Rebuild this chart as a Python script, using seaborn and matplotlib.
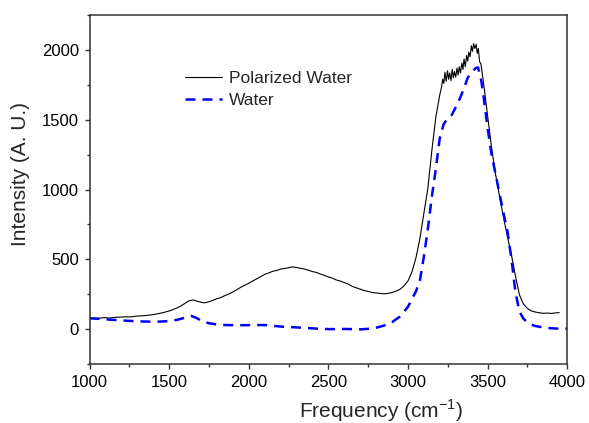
import numpy as np
import pandas as pd
import matplotlib
matplotlib.use('Agg')
import matplotlib.pyplot as plt
from matplotlib.ticker import MultipleLocator
import seaborn as sns

# Polarized water spectrum (black, thin, noisy top)
polarized_freq = [1000, 1025, 1050, 1075, 1100, 1125, 1150, 1175, 1200, 1225, 1250, 1275,
                  1300, 1325, 1350, 1375, 1400, 1425, 1450, 1475, 1500, 1525, 1550, 1575,
                  1600, 1625, 1650, 1675, 1700, 1725, 1750, 1775, 1800, 1825, 1850, 1875,
                  1900, 1925, 1950, 1975, 2000, 2025, 2050, 2075, 2100, 2125, 2150, 2175,
                  2200, 2225, 2250, 2275, 2300, 2325, 2350, 2375, 2400, 2425, 2450, 2475,
                  2500, 2525, 2550, 2575, 2600, 2625, 2650, 2675, 2700, 2725, 2750, 2775,
                  2800, 2825, 2850, 2875, 2900, 2925, 2950, 2975, 3000, 3025, 3050, 3075,
                  3100, 3125, 3150, 3175, 3200, 3210, 3218, 3225, 3232, 3240, 3248, 3255,
                  3262, 3270, 3278, 3285, 3292, 3300, 3308, 3315, 3322, 3330, 3338, 3345,
                  3352, 3360, 3368, 3375, 3382, 3390, 3398, 3405, 3412, 3420, 3428, 3435,
                  3442, 3450, 3458, 3475, 3500, 3525, 3550, 3575, 3600, 3625, 3650, 3675,
                  3700, 3725, 3750, 3775, 3800, 3825, 3850, 3875, 3900, 3925, 3950]
polarized_int = [76, 79, 77, 80, 82, 79, 83, 85, 86, 88, 87, 90,
                 93, 95, 97, 100, 104, 109, 115, 122, 130, 140, 152, 166,
                 185, 203, 209, 200, 192, 188, 196, 206, 218, 226, 240, 252,
                 266, 282, 300, 314, 328, 345, 360, 376, 392, 402, 414, 420,
                 430, 434, 440, 446, 441, 436, 430, 422, 412, 406, 394, 385,
                 374, 365, 352, 344, 333, 322, 306, 296, 286, 276, 270, 262,
                 259, 256, 252, 256, 262, 272, 285, 310, 345, 410, 510, 650,
                 830, 1010, 1280, 1520, 1680, 1730, 1790, 1760, 1840, 1775, 1850, 1790,
                 1835, 1780, 1860, 1800, 1845, 1805, 1870, 1820, 1880, 1835, 1905, 1860,
                 1935, 1880, 1960, 1920, 1985, 1950, 2030, 1990, 2045, 2010, 2040, 1975,
                 2010, 1915, 1900, 1760, 1530, 1300, 1110, 950, 800, 660, 530, 380,
                 245, 180, 148, 130, 122, 117, 113, 115, 112, 116, 118]

# Water spectrum (blue, dashed)
water_freq = [1000, 1050, 1100, 1150, 1200, 1250, 1300, 1350, 1400, 1450, 1500, 1550,
              1600, 1640, 1675, 1700, 1750, 1800, 1850, 1900, 1950, 2000, 2050, 2100,
              2150, 2200, 2250, 2300, 2350, 2400, 2450, 2500, 2550, 2600, 2650, 2700,
              2750, 2800, 2850, 2900, 2950, 3000, 3025, 3050, 3075, 3100, 3125, 3150,
              3175, 3200, 3225, 3250, 3275, 3300, 3325, 3350, 3375, 3400, 3425, 3440,
              3460, 3475, 3500, 3525, 3550, 3575, 3600, 3625, 3650, 3675, 3700, 3725,
              3750, 3775, 3800, 3850, 3900, 3950, 4000]
water_int = [77, 74, 70, 66, 62, 59, 56, 54, 53, 54, 58, 66,
             82, 94, 78, 60, 42, 33, 29, 28, 28, 28, 29, 29,
             24, 18, 15, 12, 9, 5, 2, 0, 0, 1, 0, -2,
             2, 10, 25, 50, 90, 160, 215, 270, 350, 520, 720, 950,
             1150, 1370, 1470, 1510, 1534, 1590, 1650, 1720, 1800, 1840, 1870, 1875,
             1780, 1665, 1440, 1250, 1110, 970, 830, 700, 500, 265, 125, 75,
             48, 32, 22, 12, 6, 3, 2]

sns.set_style('ticks')
plt.rcParams['font.family'] = ['Liberation Sans', 'DejaVu Sans']
plt.rcParams['mathtext.fontset'] = 'custom'
plt.rcParams['mathtext.rm'] = 'Liberation Sans'
plt.rcParams['axes.unicode_minus'] = False

fig = plt.figure(figsize=(5.89, 4.23), dpi=100)
ax = fig.add_axes([0.152, 0.1395, 0.811, 0.825])

polarized = pd.DataFrame({'freq': polarized_freq, 'intensity': polarized_int})
water = pd.DataFrame({'freq': water_freq, 'intensity': water_int})

sns.lineplot(data=polarized, x='freq', y='intensity', color='black', lw=0.8,
             label='Polarized Water', estimator=None, ax=ax)
sns.lineplot(data=water, x='freq', y='intensity', color='#0000ff', lw=1.8,
             linestyle=(0, (4, 2.8)), label='Water', estimator=None, ax=ax)

ax.set_xlim(1000, 4000)
ax.set_ylim(-250, 2250)
ax.xaxis.set_major_locator(MultipleLocator(500))
ax.xaxis.set_minor_locator(MultipleLocator(250))
ax.set_yticks([0, 500, 1000, 1500, 2000])
ax.yaxis.set_minor_locator(MultipleLocator(250))

for side in ['left', 'right', 'top', 'bottom']:
    ax.spines[side].set_visible(True)
    ax.spines[side].set_color('#333333')
    ax.spines[side].set_linewidth(1.1)
ax.tick_params(which='major', direction='out', length=3.6, width=1.0, color='#333333',
               labelsize=12, pad=4, labelcolor='black')
ax.tick_params(which='minor', direction='out', length=2.2, width=1.0, color='#333333')

ax.set_xlabel(r'Frequency (cm$^{\mathregular{-1}}$)', fontsize=15)
ax.set_ylabel('Intensity (A. U.)', fontsize=15)
ax.xaxis.set_label_coords(0.61, -0.095)
ax.yaxis.set_label_coords(-0.125, 0.544)

ax.legend(loc='upper left', bbox_to_anchor=(0.2, 0.84), frameon=False, fontsize=12.5,
          handlelength=2.1, handletextpad=0.45, labelspacing=0.38, borderpad=0,
          borderaxespad=0)

fig.savefig('out.png', dpi=100)
